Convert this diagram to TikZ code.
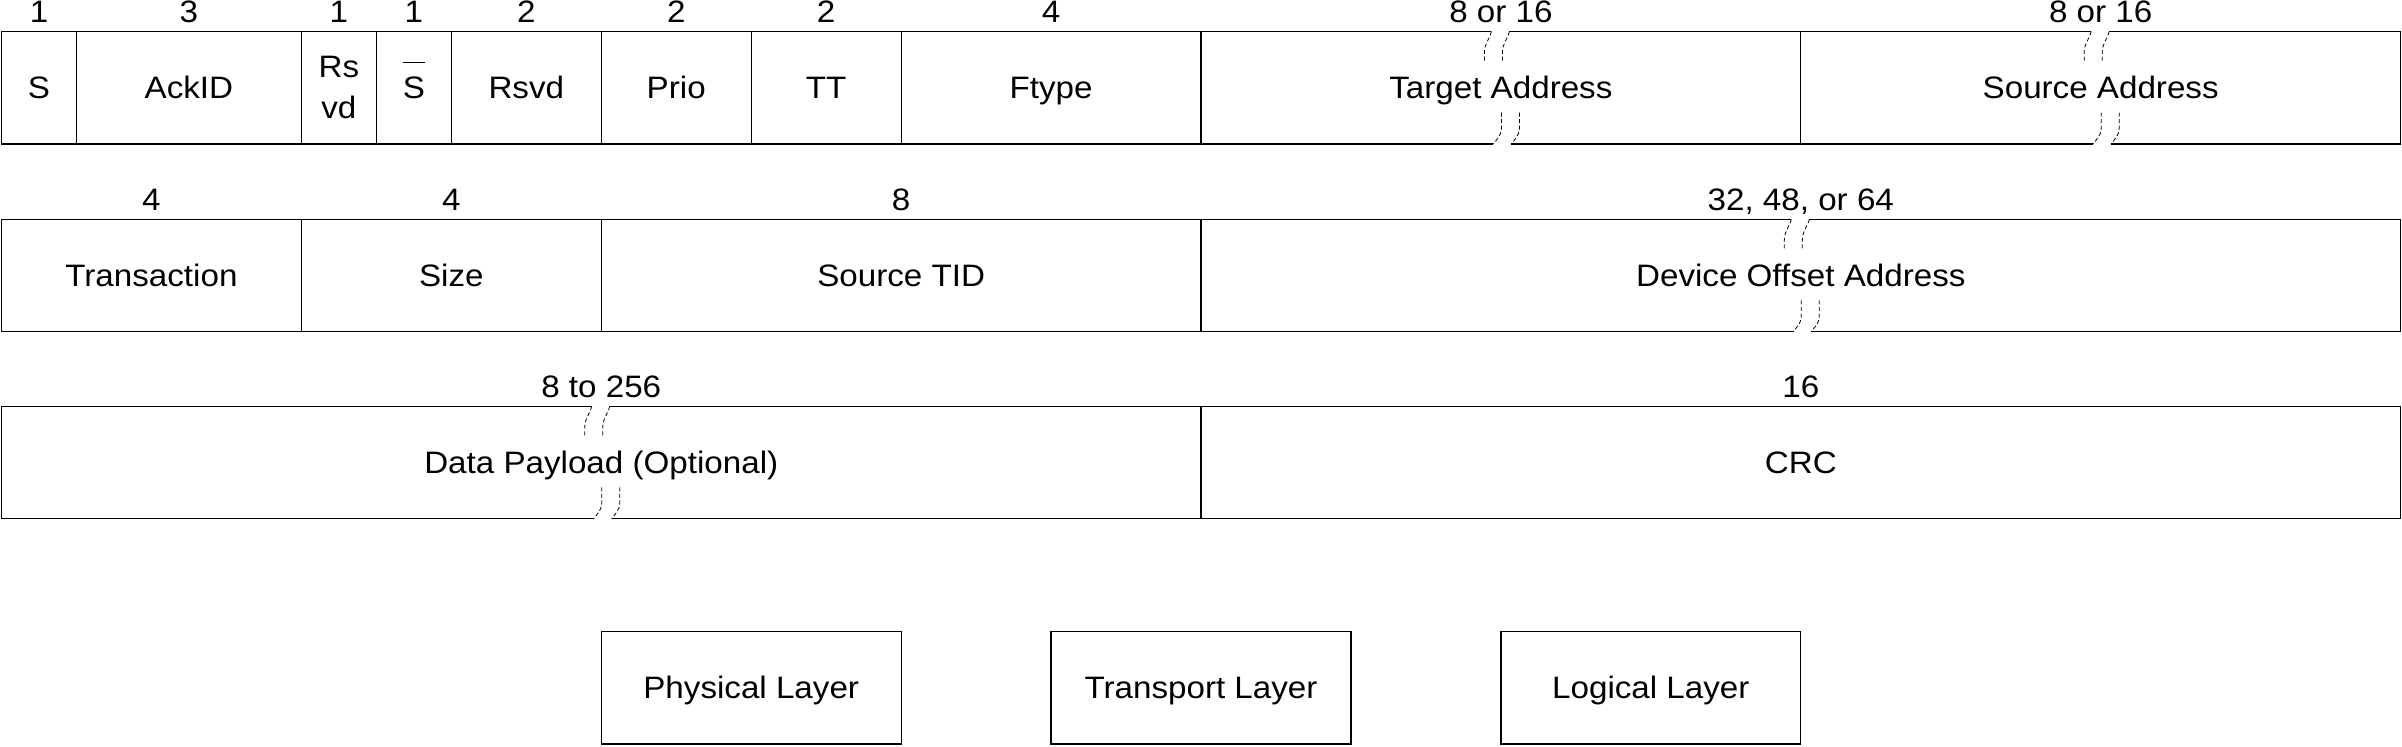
\documentclass[tikz,border=0pt]{standalone}
\usepackage{fontspec}
\newfontfamily\hfont[FakeStretch=1.07]{Liberation Sans}
\newcommand\lbl{\hfont\fontsize{15.5pt}{20.5pt}\selectfont}
\newcommand\ovS{\setbox0\hbox{S}\rlap{\smash{\raisebox{17.7pt}{\rule{\wd0}{0.6pt}}}}S}
\tikzset{
  basebox/.style={draw, line width=0.6pt, minimum height=56.25pt, inner sep=0pt, outer sep=0pt, font=\lbl},
  field/.style={basebox, text height=11.1pt, text depth=0pt},
  numlbl/.style={font=\lbl, inner sep=0pt, anchor=base},
  brkline/.style={line width=0.4pt, dash pattern=on 2pt off 1.3pt},
}
% #1 centre x, #2 top y, #3 bottom y (pixel units)
\newcommand\brk[3]{%
  \fill[white] ({#1-9.5},{#2-1.8}) rectangle ({#1+8.5},{#2+1.8});
  \fill[white] ({#1-7.5},{#3-1.8}) rectangle ({#1+10.5},{#3+1.8});
  \foreach \d in {-9.5,8.5}{%
    \draw[brkline] ({#1+(\d)},{#2}) .. controls ({#1+(\d)-2},{#2+8}) and ({#1+(\d)-7},{#2+12}) .. ({#1+(\d)-7},{#2+21}) -- ({#1+(\d)-7},{#2+31});
    \draw[brkline] ({#1+(\d)+10},{#2+81}) -- ({#1+(\d)+10},{#2+97}) .. controls ({#1+(\d)+10},{#2+104}) and ({#1+(\d)+5},{#2+108}) .. ({#1+(\d)+2},{#3});
  }%
}
\begin{document}
\begin{tikzpicture}[x=0.5pt,y=-0.5pt]
\useasboundingbox (0,0) rectangle (2402,746);
% Row 1
\node[field, minimum width=37.485pt]  (s)     at (38.985,87.75)  {S};
\node[field, minimum width=112.455pt] (ack)   at (188.925,87.75) {AckID};
\node[basebox, minimum width=37.485pt, align=center] (rsv1) at (338.865,87.75) {Rs\\vd};
\node[field, minimum width=37.485pt]  (sbar)  at (413.835,87.75) {\ovS};
\node[field, minimum width=74.97pt]   (rsv2)  at (526.29,87.75)  {Rsvd};
\node[field, minimum width=74.97pt]   (prio)  at (676.23,87.75)  {Prio};
\node[field, minimum width=74.97pt]   (tt)    at (826.17,87.75)  {TT};
\node[field, minimum width=149.94pt]  (ftype) at (1051.08,87.75) {Ftype};
\node[field, minimum width=299.88pt]  (tgt)   at (1500.9,87.75)  {Target Address};
\node[field, minimum width=299.88pt]  (src)   at (2100.66,87.75) {Source Address};
% Row 2
\node[field, minimum width=149.94pt]  (trans) at (151.44,275.6)  {Transaction};
\node[field, minimum width=149.94pt]  (size)  at (451.32,275.6)  {Size};
\node[field, minimum width=299.88pt]  (tid)   at (901.14,275.6)  {Source TID};
\node[field, minimum width=599.76pt]  (doa)   at (1800.78,275.6) {Device Offset Address};
% Row 3
\node[field, minimum width=599.76pt]  (data)  at (601.26,462.5)  {Data Payload (Optional)};
\node[field, minimum width=599.76pt]  (crc)   at (1800.78,462.5) {CRC};
% Layers
\node[field, minimum width=149.94pt]  (phy)   at (751.2,687.75)  {Physical Layer};
\node[field, minimum width=149.94pt]  (tra)   at (1201.02,687.75) {Transport Layer};
\node[field, minimum width=149.94pt]  (log)   at (1650.84,687.75) {Logical Layer};
% Bit-count labels
\node[numlbl] (ls)    at (38.985,22.5)  {1};
\node[numlbl] (lack)  at (188.925,22.5) {3};
\node[numlbl] (lrs1)  at (338.865,22.5) {1};
\node[numlbl] (lsb)   at (413.835,22.5) {1};
\node[numlbl] (lrs2)  at (526.29,22.5)  {2};
\node[numlbl] (lpr)   at (676.23,22.5)  {2};
\node[numlbl] (ltt)   at (826.17,22.5)  {2};
\node[numlbl] (lft)   at (1051.08,22.5) {4};
\node[numlbl] (ltgt)  at (1500.9,22.5)  {8 or 16};
\node[numlbl] (lsrc)  at (2100.66,22.5) {8 or 16};
\node[numlbl] (ltr)   at (151.44,210.5) {4};
\node[numlbl] (lsz)   at (451.32,210.5) {4};
\node[numlbl] (ltid)  at (901.14,210.5) {8};
\node[numlbl] (ldoa)  at (1800.78,210.5) {32, 48, or 64};
\node[numlbl] (ldata) at (601.26,397)   {8 to 256};
\node[numlbl] (lcrc)  at (1800.78,397)  {16};
% Break marks
\brk{1500.9}{31.5}{144}
\brk{2100.66}{31.5}{144}
\brk{1800.78}{219.35}{331.85}
\brk{601.26}{406.25}{518.75}
\end{tikzpicture}
\end{document}
